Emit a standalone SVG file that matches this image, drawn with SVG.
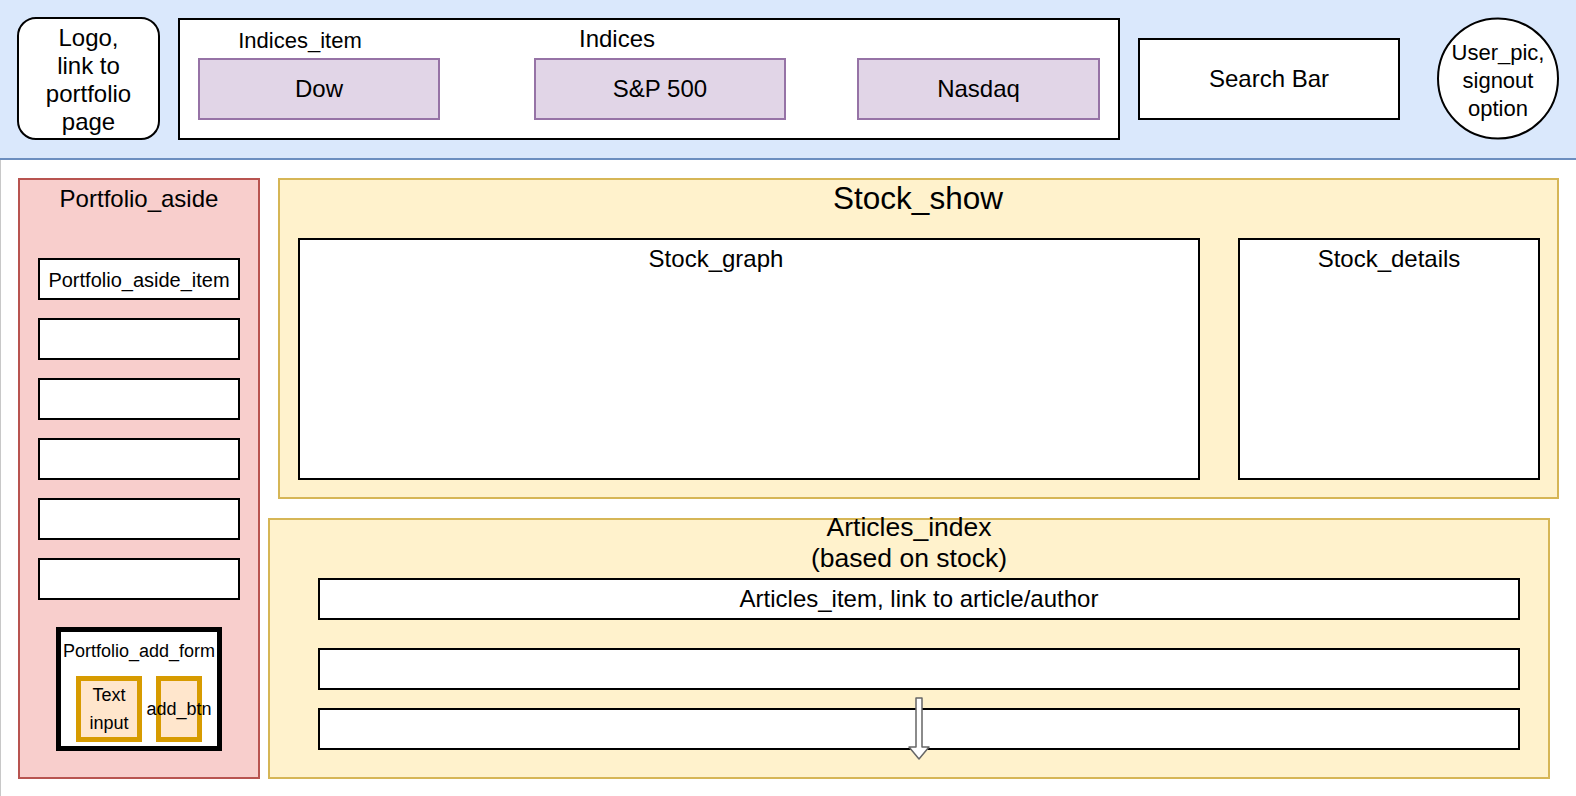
<svg xmlns="http://www.w3.org/2000/svg" width="1576" height="796" viewBox="0 0 1576 796">
<defs>
<style>
text{font-family:"Liberation Sans",Arial,Helvetica,sans-serif;fill:#000;text-anchor:middle}
.box{fill:#fff;stroke:#000;stroke-width:2}
.idx{fill:#e1d5e7;stroke:#9673a6;stroke-width:2}
.org{fill:#ffe6cc;stroke:#d79b00;stroke-width:5}
.yel{fill:#fff2cc;stroke:#d6b656;stroke-width:2}
.f24{font-size:24px}
.f22{font-size:22px}
.f20{font-size:20px}
.f18{font-size:18px}
</style>
</defs>
<rect x="0" y="0" width="1576" height="796" fill="#fff"/>
<line x1="0.5" y1="159" x2="0.5" y2="796" stroke="#c8c8c8" stroke-width="1"/>
<g id="header">
<rect x="-1" y="-1" width="1578" height="160" fill="#dae8fc" stroke="#6c8ebf" stroke-width="2"/>
</g>
<g id="logo">
<rect x="18" y="18" width="141" height="121" rx="18" ry="18" class="box"/>
<text class="f24" x="88.5" y="46">Logo,</text>
<text class="f24" x="88.5" y="74">link to</text>
<text class="f24" x="88.5" y="102">portfolio</text>
<text class="f24" x="88.5" y="130">page</text>
</g>
<g id="indices">
<rect x="179" y="19" width="940" height="120" class="box"/>
<text class="f22" x="300" y="48">Indices_item</text>
<text class="f24" x="617" y="47">Indices</text>
</g>
<g id="dow">
<rect x="199" y="59" width="240" height="60" class="idx"/>
<text class="f24" x="319" y="97">Dow</text>
</g>
<g id="sp500">
<rect x="535" y="59" width="250" height="60" class="idx"/>
<text class="f24" x="660" y="97">S&amp;P 500</text>
</g>
<g id="nasdaq">
<rect x="858" y="59" width="241" height="60" class="idx"/>
<text class="f24" x="978.5" y="97">Nasdaq</text>
</g>
<g id="search">
<rect x="1139" y="39" width="260" height="80" class="box"/>
<text class="f24" x="1269" y="87">Search Bar</text>
</g>
<g id="user">
<circle cx="1498" cy="78.5" r="60" class="box"/>
<text class="f22" x="1498" y="60">User_pic,</text>
<text class="f22" x="1498" y="88">signout</text>
<text class="f22" x="1498" y="116">option</text>
</g>
<g id="portfolio_aside">
<rect x="19" y="179" width="240" height="599" fill="#f8cecc" stroke="#b85450" stroke-width="2"/>
<text class="f24" x="139" y="207">Portfolio_aside</text>
</g>
<g id="aside_item1">
<rect x="39" y="259" width="200" height="40" class="box"/>
<text class="f20" x="139" y="287">Portfolio_aside_item</text>
</g>
<g id="aside_item2"><rect x="39" y="319" width="200" height="40" class="box"/></g>
<g id="aside_item3"><rect x="39" y="379" width="200" height="40" class="box"/></g>
<g id="aside_item4"><rect x="39" y="439" width="200" height="40" class="box"/></g>
<g id="aside_item5"><rect x="39" y="499" width="200" height="40" class="box"/></g>
<g id="aside_item6"><rect x="39" y="559" width="200" height="40" class="box"/></g>
<g id="add_form">
<rect x="58.5" y="629.5" width="161" height="119" fill="#fff" stroke="#000" stroke-width="5"/>
<text class="f18" x="139" y="657">Portfolio_add_form</text>
</g>
<g id="text_input">
<rect x="78.5" y="678.5" width="61" height="61" class="org"/>
<text class="f18" x="109" y="701">Text</text>
<text class="f18" x="109" y="729">input</text>
</g>
<g id="add_btn">
<rect x="158.5" y="678.5" width="41" height="61" class="org"/>
<text class="f18" x="179" y="715">add_btn</text>
</g>
<g id="stock_show">
<rect x="279" y="179" width="1279" height="319" class="yel"/>
<text x="918" y="209" style="font-size:31.5px">Stock_show</text>
</g>
<g id="stock_graph">
<rect x="299" y="239" width="900" height="240" class="box"/>
<text class="f24" x="716" y="267">Stock_graph</text>
</g>
<g id="stock_details">
<rect x="1239" y="239" width="300" height="240" class="box"/>
<text class="f24" x="1389" y="267">Stock_details</text>
</g>
<g id="articles_index">
<rect x="269" y="519" width="1280" height="259" class="yel"/>
<text x="909" y="536" style="font-size:26.5px">Articles_index</text>
<text x="909" y="567" style="font-size:26.5px">(based on stock)</text>
</g>
<g id="article1">
<rect x="319" y="579" width="1200" height="40" class="box"/>
<text class="f24" x="919" y="607">Articles_item, link to article/author</text>
</g>
<g id="article2"><rect x="319" y="649" width="1200" height="40" class="box"/></g>
<g id="article3"><rect x="319" y="709" width="1200" height="40" class="box"/></g>
<g id="connectors">
<path d="M916,698 L922,698 L922,747 L929,747 L919,759 L909,747 L916,747 Z" fill="#fff" stroke="#666" stroke-width="1.5" stroke-linejoin="round"/>
</g>
</svg>
